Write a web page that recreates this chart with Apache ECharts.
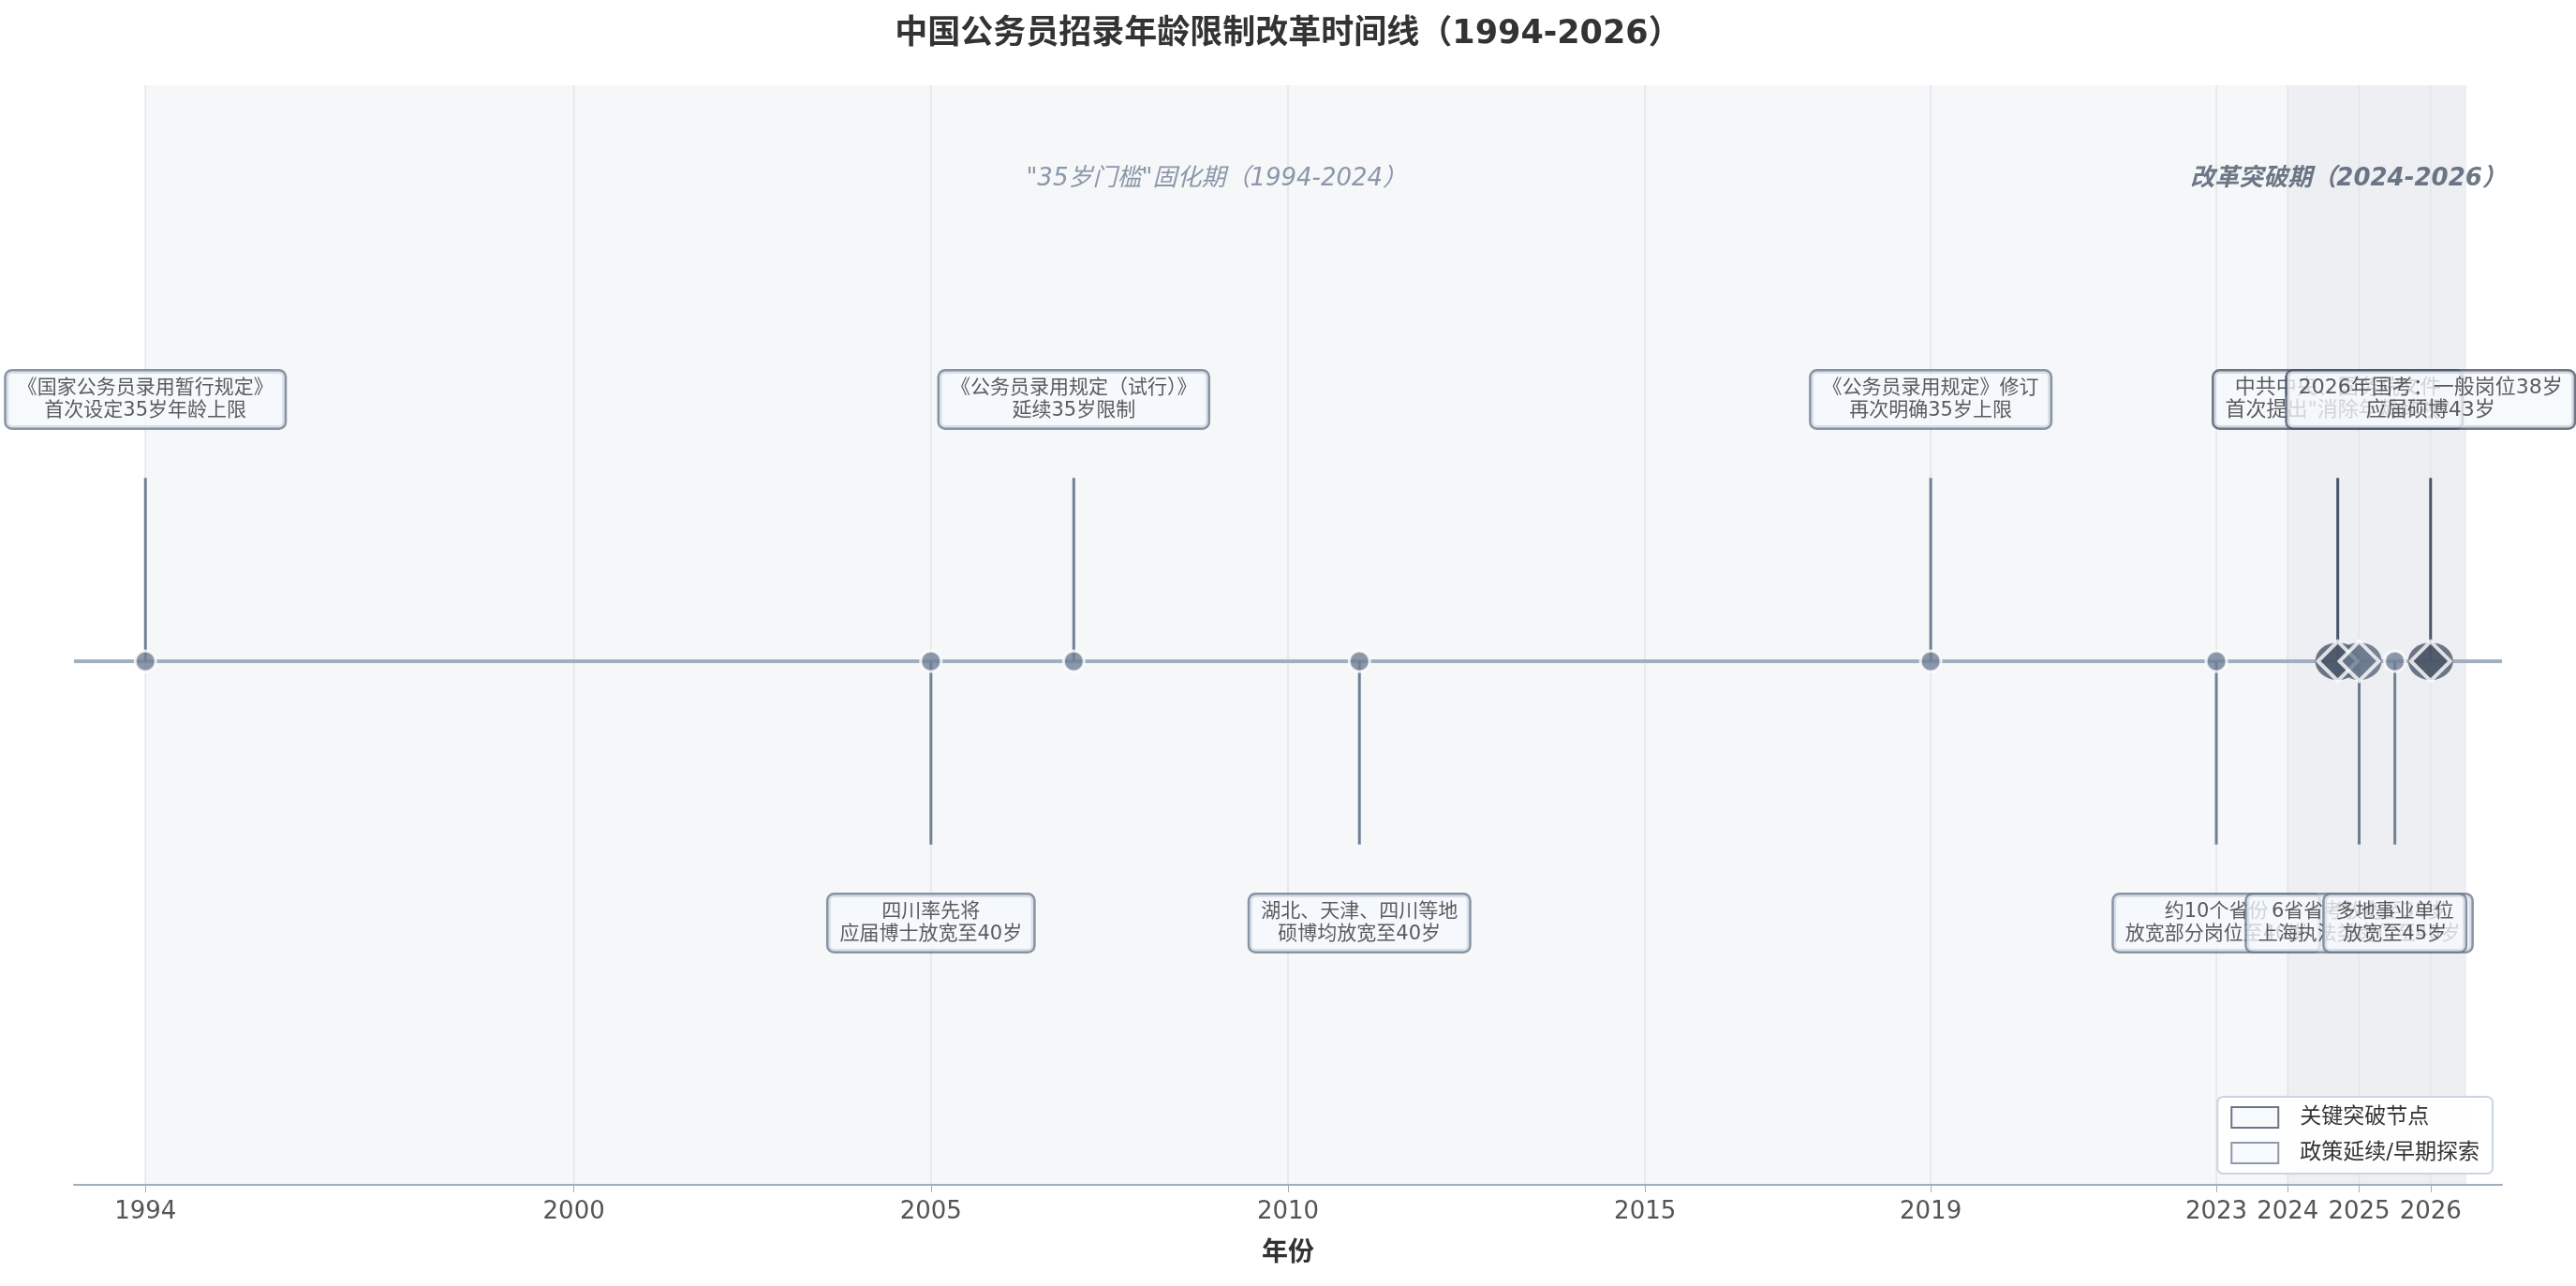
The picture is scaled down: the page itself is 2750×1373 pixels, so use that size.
<!DOCTYPE html>
<html><head><meta charset="utf-8">
<script src="https://cdn.jsdelivr.net/npm/echarts@6/dist/echarts.min.js"></script>
<style>html,body{margin:0;padding:0;background:#fff}#c{width:2750px;height:1373px}</style>
</head><body><div id="c"></div>
<script>
const eventYears = [1994, 2005, 2007, 2011, 2019, 2023, 2024.7, 2025, 2025.5, 2026];
const eventSides = [1, -1, 1, -1, 1, -1, 1, -1, -1, 1];
const eventKinds = ['policy','policy','policy','policy','policy','policy','key','mid','policy','key'];
const eventTexts = [
  '《国家公务员录用暂行规定》\n首次设定35岁年龄上限',
  '四川率先将\n应届博士放宽至40岁',
  '《公务员录用规定（试行）》\n延续35岁限制',
  '湖北、天津、四川等地\n硕博均放宽至40岁',
  '《公务员录用规定》修订\n再次明确35岁上限',
  '约10个省份\n放宽部分岗位至40岁',
  '中共中央、国务院文件\n首次提出"消除年龄歧视"',
  '6省省考放宽至38岁\n上海执法类岗位至40岁',
  '多地事业单位\n放宽至45岁',
  '2026年国考：一般岗位38岁\n应届硕博43岁'
];
const tickYears = [1994, 2000, 2005, 2010, 2015, 2019, 2023, 2024, 2025, 2026];
const phaseLabels = ['"35岁门槛"固化期（1994-2024）', '改革突破期（2024-2026）'];
const phaseRanges = [[1994, 2026.5], [2024, 2026.5]];
const legendNames = ['关键突破节点', '政策延续/早期探索'];

const DARK = '#4a5568', MID = '#718096', LINE = '#a0aec0';
const kindColor = k => k === 'key' ? DARK : (k === 'mid' ? '#6b7a90' : MID);
const borderColor = k => k === 'key' ? DARK : '#6b7a8f';

const STEM = 0.35, LABELY = 0.5;
const stemData = eventYears.map((y, i) => [y, eventSides[i] * STEM, i]);
const labelData = eventYears.map((y, i) => ({
  value: [y, eventSides[i] * LABELY],
  label: {
    formatter: eventTexts[i],
    borderColor: borderColor(eventKinds[i]),
    fontSize: eventKinds[i] === 'key' ? 22 : 21
  }
}));
const circleData = eventYears.map((y, i) => eventKinds[i] === 'policy' ? [y, 0] : null).filter(Boolean);
const diamondData = eventYears.map((y, i) => eventKinds[i] !== 'policy' ? {value: [y, 0], itemStyle: {color: kindColor(eventKinds[i])}} : null).filter(Boolean);

const chart = echarts.init(document.getElementById('c'));
chart.setOption({
  animation: false,
  textStyle: {fontFamily: '"DejaVu Sans", "Noto Sans CJK SC", sans-serif'},
  title: {text: '中国公务员招录年龄限制改革时间线（1994-2026）', left: 'center', top: 14,
    textStyle: {fontSize: 35, fontWeight: 'bold', color: '#333', fontFamily: '"DejaVu Sans", "Noto Sans CJK SC", sans-serif'}},
  grid: {left: 79, right: 79, top: 91, bottom: 108},
  legend: {
    orient: 'vertical', right: 89, bottom: 120, data: legendNames,
    backgroundColor: 'rgba(255,255,255,0.9)', borderColor: '#cbd5e0', borderWidth: 2, borderRadius: 6,
    padding: [10, 14], itemGap: 14, itemWidth: 50, itemHeight: 22, icon: 'rect',
    textStyle: {fontSize: 23, color: '#333', padding: [0, 0, 0, 18]}
  },
  xAxis: {
    type: 'value', min: 1993, max: 2027,
    name: '年份', nameLocation: 'middle', nameGap: 60,
    nameTextStyle: {fontSize: 28, fontWeight: 'bold', color: '#333'},
    axisLine: {show: true, onZero: false, lineStyle: {color: LINE, width: 2}},
    axisTick: {show: true, customValues: tickYears, length: 8, lineStyle: {color: LINE}},
    axisLabel: {customValues: tickYears, fontSize: 26, color: '#555', margin: 16, formatter: v => String(v)},
    splitLine: {show: false}
  },
  yAxis: {type: 'value', min: -1, max: 1.1, show: false, splitLine: {show: false}},
  series: [
    {
      type: 'custom', name: 'bg', silent: true, z: 0,
      renderItem: (params, api) => {
        const s = api.coord([phaseRanges[0][0], 1.1]);
        const e = api.coord([phaseRanges[0][1], -1]);
        const s2 = api.coord([phaseRanges[1][0], 1.1]);
        const children = [
          {type: 'rect', shape: {x: s[0], y: s[1], width: e[0] - s[0], height: e[1] - s[1]}, style: {fill: '#f5f7f9'}},
          {type: 'rect', shape: {x: s2[0], y: s2[1], width: e[0] - s2[0], height: e[1] - s2[1]}, style: {fill: '#edeff2'}}
        ];
        tickYears.forEach(t => {
          const a = api.coord([t, 1.1]), b = api.coord([t, -1]);
          children.push({type: 'line', shape: {x1: a[0], y1: a[1], x2: b[0], y2: b[1]}, style: {stroke: '#e2e5e9', lineWidth: 1.5}});
        });
        return params.dataIndex === 0 ? {type: 'group', children} : null;
      },
      data: [[1994, 0]]
    },
    {
      type: 'line', name: 'timeline', silent: true, symbol: 'none', z: 2,
      lineStyle: {color: LINE, width: 4}, data: [[1993, 0], [2027, 0]]
    },
    {
      type: 'custom', name: 'stems', silent: true, z: 3,
      renderItem: (params, api) => {
        const i = api.value(2);
        const a = api.coord([api.value(0), 0]), b = api.coord([api.value(0), api.value(1)]);
        return {type: 'line', shape: {x1: a[0], y1: a[1], x2: b[0], y2: b[1]},
          style: {stroke: kindColor(eventKinds[i]), lineWidth: 3}};
      },
      data: stemData
    },
    {
      type: 'scatter', name: 'circles', silent: true, z: 4, symbol: 'circle', symbolSize: 22,
      itemStyle: {color: MID, borderColor: '#fff', borderWidth: 3}, data: circleData
    },
    {
      type: 'scatter', name: 'halo', silent: true, z: 4, symbol: 'circle', symbolSize: [48, 40],
      itemStyle: {color: DARK}, data: diamondData.map(d => ({value: d.value, itemStyle: {color: d.itemStyle.color === DARK ? DARK : '#5a677a'}}))
    },
    {
      type: 'scatter', name: 'diamonds', silent: true, z: 5, symbol: 'diamond', symbolSize: 42,
      itemStyle: {borderColor: '#fff', borderWidth: 4}, data: diamondData
    },
    {
      type: 'scatter', name: 'labels', silent: true, z: 6, symbolSize: 0,
      label: {show: true, position: 'inside', color: '#333', lineHeight: 24, align: 'center',
        backgroundColor: 'rgba(245,249,252,0.95)', borderWidth: 2.5, borderRadius: 6, padding: [6, 12]},
      data: labelData
    },
    {
      type: 'scatter', name: 'phases', silent: true, z: 6, symbolSize: 0,
      data: [
        {value: [2009, 0.92], label: {show: true, formatter: phaseLabels[0], fontSize: 26, fontStyle: 'italic', color: MID}},
        {value: [2024.85, 0.92], label: {show: true, formatter: phaseLabels[1], fontSize: 26, fontWeight: 'bold', fontStyle: 'italic', color: DARK}}
      ],
      label: {position: 'inside'}
    },
    {type: 'scatter', name: legendNames[0], data: [], itemStyle: {color: '#f5f9fc', borderColor: DARK, borderWidth: 3}},
    {type: 'scatter', name: legendNames[1], data: [], itemStyle: {color: '#f5f9fc', borderColor: MID, borderWidth: 3}}
  ]
});
</script></body></html>
